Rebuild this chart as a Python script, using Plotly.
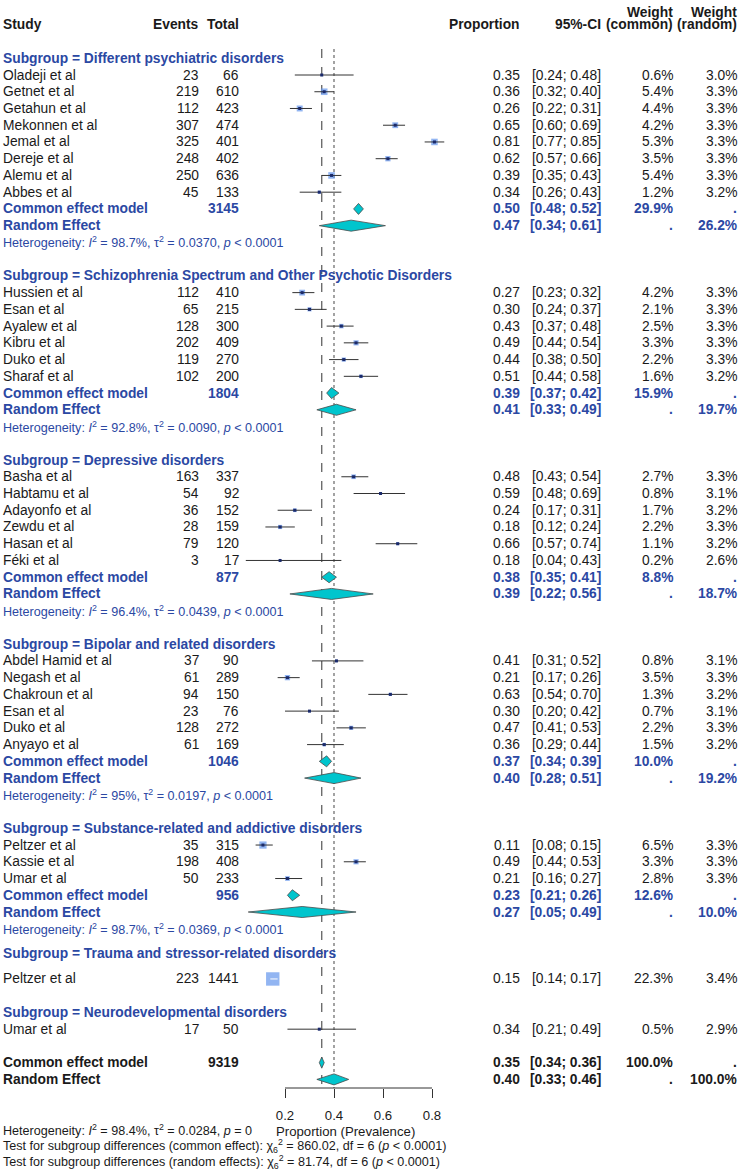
import plotly.graph_objects as go
import math

# ---------------- data ----------------
sub_names = [
    "Different psychiatric disorders",
    "Schizophrenia Spectrum and Other Psychotic Disorders",
    "Depressive disorders",
    "Bipolar and related disorders",
    "Substance-related and addictive disorders",
    "Trauma and stressor-related disorders",
    "Neurodevelopmental disorders",
]
sub_sizes = [8, 6, 6, 6, 3, 1, 1]

study_names = [
    "Oladeji et al", "Getnet et al", "Getahun et al", "Mekonnen et al", "Jemal et al",
    "Dereje et al", "Alemu et al", "Abbes et al",
    "Hussien et al", "Esan et al", "Ayalew et al", "Kibru et al", "Duko et al", "Sharaf et al",
    "Basha et al", "Habtamu et al", "Adayonfo et al", "Zewdu et al", "Hasan et al", "Féki et al",
    "Abdel Hamid et al", "Negash et al", "Chakroun et al", "Esan et al", "Duko et al", "Anyayo et al",
    "Peltzer et al", "Kassie et al", "Umar et al",
    "Peltzer et al",
    "Umar et al",
]
events = [23, 219, 112, 307, 325, 248, 250, 45,
          112, 65, 128, 202, 119, 102,
          163, 54, 36, 28, 79, 3,
          37, 61, 94, 23, 128, 61,
          35, 198, 50,
          223,
          17]
totals = [66, 610, 423, 474, 401, 402, 636, 133,
          410, 215, 300, 409, 270, 200,
          337, 92, 152, 159, 120, 17,
          90, 289, 150, 76, 272, 169,
          315, 408, 233,
          1441,
          50]
prop = [0.35, 0.36, 0.26, 0.65, 0.81, 0.62, 0.39, 0.34,
        0.27, 0.30, 0.43, 0.49, 0.44, 0.51,
        0.48, 0.59, 0.24, 0.18, 0.66, 0.18,
        0.41, 0.21, 0.63, 0.30, 0.47, 0.36,
        0.11, 0.49, 0.21,
        0.15,
        0.34]
ci_lo = [0.24, 0.32, 0.22, 0.60, 0.77, 0.57, 0.35, 0.26,
         0.23, 0.24, 0.37, 0.44, 0.38, 0.44,
         0.43, 0.48, 0.17, 0.12, 0.57, 0.04,
         0.31, 0.17, 0.54, 0.20, 0.41, 0.29,
         0.08, 0.44, 0.16,
         0.14,
         0.21]
ci_hi = [0.48, 0.40, 0.31, 0.69, 0.85, 0.66, 0.43, 0.43,
         0.32, 0.37, 0.48, 0.54, 0.50, 0.58,
         0.54, 0.69, 0.31, 0.24, 0.74, 0.43,
         0.52, 0.26, 0.70, 0.42, 0.53, 0.44,
         0.15, 0.53, 0.27,
         0.17,
         0.49]
w_common = [0.6, 5.4, 4.4, 4.2, 5.3, 3.5, 5.4, 1.2,
            4.2, 2.1, 2.5, 3.3, 2.2, 1.6,
            2.7, 0.8, 1.7, 2.2, 1.1, 0.2,
            0.8, 3.5, 1.3, 0.7, 2.2, 1.5,
            6.5, 3.3, 2.8,
            22.3,
            0.5]
w_random = [3.0, 3.3, 3.3, 3.3, 3.3, 3.3, 3.3, 3.2,
            3.3, 3.3, 3.3, 3.3, 3.3, 3.2,
            3.3, 3.1, 3.2, 3.3, 3.2, 2.6,
            3.1, 3.3, 3.2, 3.1, 3.3, 3.2,
            3.3, 3.3, 3.3,
            3.4,
            2.9]

# subgroup pooled estimates (only subgroups with >1 study)
sub_total_n = [3145, 1804, 877, 1046, 956]
sub_ce_est = [0.50, 0.39, 0.38, 0.37, 0.23]
sub_ce_lo = [0.48, 0.37, 0.35, 0.34, 0.21]
sub_ce_hi = [0.52, 0.42, 0.41, 0.39, 0.26]
sub_ce_w = [29.9, 15.9, 8.8, 10.0, 12.6]
sub_re_est = [0.47, 0.41, 0.39, 0.40, 0.27]
sub_re_lo = [0.34, 0.33, 0.22, 0.28, 0.05]
sub_re_hi = [0.61, 0.49, 0.56, 0.51, 0.49]
sub_re_w = [26.2, 19.7, 18.7, 19.2, 10.0]
sub_i2 = ["98.7%", "92.8%", "96.4%", "95%", "98.7%"]
sub_tau2 = ["0.0370", "0.0090", "0.0439", "0.0197", "0.0369"]
sub_p = ["< 0.0001", "< 0.0001", "< 0.0001", "< 0.0001", "< 0.0001"]

overall_n = 9319
overall_ce = [0.35, 0.34, 0.36]
overall_re = [0.40, 0.33, 0.46]
overall_i2 = "98.4%"
overall_tau2 = "0.0284"
overall_p = "= 0"
test_common = ["860.02", "6", "< 0.0001"]
test_random = ["81.74", "6", "< 0.0001"]

tick_vals = [0.2, 0.4, 0.6, 0.8]
tick_text = ["0.2", "0.4", "0.6", "0.8"]

# ---------------- layout constants ----------------
W, H = 744, 1176
X0_PX, X_SCALE = 236.0, 245.0          # pixel of proportion 0, px per unit
ROW0_PX, ROW_H = 75.0, 16.74           # pixel of row 0, px per row
B_MARGIN = 88
PLOT_H = H - B_MARGIN

BLUE = "#2B48A3"
BLACK = "#1a1a1a"
SQ = "#6495ED"
DIA = "#00C5CD"
FONT = "Arial, Liberation Sans, sans-serif"
FS = 13.8
FS_SMALL = 12.6

TITLE_ROWS = [-1, 12, 23, 34, 45, 52.45, 56]
FIRST_ROWS = [0, 13, 24, 35, 46, 54, 57]
OVERALL_ROWS = [59, 60]

COL_STUDY = 3
COL_EVENTS = 199
COL_TOTAL = 239
COL_PROP = 520
COL_CI = 601
COL_WC = 673
COL_WR = 737

annotations = []


def txt(xpx, row, text, anchor="left", color=BLACK, bold=False, size=FS):
    if bold:
        text = "<b>" + text + "</b>"
    annotations.append(dict(
        x=xpx / W, xref="paper", y=row, yref="y", text=text, showarrow=False,
        xanchor=anchor, yanchor="middle", borderpad=0, borderwidth=0,
        font=dict(family=FONT, size=size, color=color)))


def txt_below(xpx, ypx, text, anchor="left", size=FS_SMALL):
    # text placed below the plotting area, in paper coordinates
    annotations.append(dict(
        x=xpx / W, xref="paper", y=(PLOT_H - ypx) / PLOT_H, yref="paper", text=text,
        showarrow=False, xanchor=anchor, yanchor="middle", borderpad=0, borderwidth=0,
        font=dict(family=FONT, size=size, color=BLACK)))


def row_values(row, est, lo, hi, wc, wr, color=BLACK, bold=False):
    txt(COL_PROP, row, f"{est:.2f}", "right", color, bold)
    txt(COL_CI, row, f"[{lo:.2f}; {hi:.2f}]", "right", color, bold)
    txt(COL_WC, row, wc, "right", color, bold)
    txt(COL_WR, row, wr, "right", color, bold)


# header
txt(COL_STUDY, -3, "Study", "left", BLACK, True)
txt(COL_EVENTS, -3, "Events", "right", BLACK, True)
txt(COL_TOTAL, -3, "Total", "right", BLACK, True)
txt(COL_PROP, -3, "Proportion", "right", BLACK, True)
txt(COL_CI, -3, "95%-CI", "right", BLACK, True)
txt(COL_WC, -3.74, "Weight", "right", BLACK, True)
txt(COL_WC, -3, "(common)", "right", BLACK, True)
txt(COL_WR, -3.74, "Weight", "right", BLACK, True)
txt(COL_WR, -3, "(random)", "right", BLACK, True)

# studies
study_rows = []
idx = 0
for g, k in enumerate(sub_sizes):
    txt(COL_STUDY, TITLE_ROWS[g], "Subgroup = " + sub_names[g], "left", BLUE, True)
    for j in range(k):
        r = FIRST_ROWS[g] + j
        study_rows.append(r)
        i = idx + j
        txt(COL_STUDY, r, study_names[i])
        txt(COL_EVENTS, r, str(events[i]), "right")
        txt(COL_TOTAL, r, str(totals[i]), "right")
        row_values(r, prop[i], ci_lo[i], ci_hi[i], f"{w_common[i]:.1f}%", f"{w_random[i]:.1f}%")
    idx += k

# subgroup summaries
ce_rows, re_rows = [], []
for g in range(len(sub_total_n)):
    last = FIRST_ROWS[g] + sub_sizes[g] - 1
    rc, rr, rh = last + 1, last + 2, last + 3
    ce_rows.append(rc)
    re_rows.append(rr)
    txt(COL_STUDY, rc, "Common effect model", "left", BLUE, True)
    txt(COL_TOTAL, rc, str(sub_total_n[g]), "right", BLUE, True)
    row_values(rc, sub_ce_est[g], sub_ce_lo[g], sub_ce_hi[g], f"{sub_ce_w[g]:.1f}%", ".", BLUE, True)
    txt(COL_STUDY, rr, "Random Effect", "left", BLUE, True)
    row_values(rr, sub_re_est[g], sub_re_lo[g], sub_re_hi[g], ".", f"{sub_re_w[g]:.1f}%", BLUE, True)
    txt(COL_STUDY, rh,
        f"Heterogeneity: <i>I</i><sup>2</sup> = {sub_i2[g]}, τ<sup>2</sup> = {sub_tau2[g]}, "
        f"<i>p</i> {sub_p[g].replace('<', '&lt;')}",
        "left", BLUE, False, FS_SMALL)

# overall
txt(COL_STUDY, OVERALL_ROWS[0], "Common effect model", "left", BLACK, True)
txt(COL_TOTAL, OVERALL_ROWS[0], str(overall_n), "right", BLACK, True)
row_values(OVERALL_ROWS[0], overall_ce[0], overall_ce[1], overall_ce[2], "100.0%", ".", BLACK, True)
txt(COL_STUDY, OVERALL_ROWS[1], "Random Effect", "left", BLACK, True)
row_values(OVERALL_ROWS[1], overall_re[0], overall_re[1], overall_re[2], ".", "100.0%", BLACK, True)

# bottom text
txt_below(COL_STUDY, 1130,
          f"Heterogeneity: <i>I</i><sup>2</sup> = {overall_i2}, τ<sup>2</sup> = {overall_tau2}, "
          f"<i>p</i> {overall_p}")
txt_below(COL_STUDY, 1146,
          f"Test for subgroup differences (common effect): χ<sub>{test_common[1]}</sub><sup>2</sup> = "
          f"{test_common[0]}, df = {test_common[1]} (<i>p</i> {test_common[2].replace('<', '&lt;')})")
txt_below(COL_STUDY, 1162,
          f"Test for subgroup differences (random effects): χ<sub>{test_random[1]}</sub><sup>2</sup> = "
          f"{test_random[0]}, df = {test_random[1]} (<i>p</i> {test_random[2].replace('<', '&lt;')})")
txt_below(345, 1131, "Proportion (Prevalence)", "center", 13.2)

# ---------------- traces ----------------
fig = go.Figure()

# squares
sizes = [13.4 * math.sqrt(w / max(w_common)) for w in w_common]
fig.add_trace(go.Scatter(x=prop, y=study_rows, mode="markers",
                         marker=dict(symbol="square", size=sizes, color=SQ, line=dict(width=0)),
                         hoverinfo="skip", showlegend=False))

# CI lines
lx, ly, wx, wy = [], [], [], []
for i, r in enumerate(study_rows):
    half = sizes[i] / 2 / X_SCALE
    if ci_lo[i] > prop[i] - half and ci_hi[i] < prop[i] + half:
        wx += [ci_lo[i], ci_hi[i], None]
        wy += [r, r, None]
    else:
        lx += [ci_lo[i], ci_hi[i], None]
        ly += [r, r, None]
fig.add_trace(go.Scatter(x=lx, y=ly, mode="lines", line=dict(color="#333333", width=1),
                         hoverinfo="skip", showlegend=False))
fig.add_trace(go.Scatter(x=wx, y=wy, mode="lines", line=dict(color="white", width=1),
                         hoverinfo="skip", showlegend=False))
# centre points
fig.add_trace(go.Scatter(x=[p for i, p in enumerate(prop) if sizes[i] < 10],
                         y=[r for i, r in enumerate(study_rows) if sizes[i] < 10], mode="markers",
                         marker=dict(symbol="square", size=3, color="#1b2a6b", line=dict(width=0)),
                         hoverinfo="skip", showlegend=False))

# diamonds
DH = 0.33


def diamond(est, lo, hi, row):
    fig.add_trace(go.Scatter(x=[lo, est, hi, est, lo], y=[row, row - DH, row, row + DH, row],
                             mode="lines", fill="toself", fillcolor=DIA,
                             line=dict(color="#4a4a4a", width=0.8),
                             hoverinfo="skip", showlegend=False))


for g in range(len(sub_total_n)):
    diamond(sub_ce_est[g], sub_ce_lo[g], sub_ce_hi[g], ce_rows[g])
    diamond(sub_re_est[g], sub_re_lo[g], sub_re_hi[g], re_rows[g])
diamond(overall_ce[0], overall_ce[1], overall_ce[2], OVERALL_ROWS[0])
diamond(overall_re[0], overall_re[1], overall_re[2], OVERALL_ROWS[1])

# ---------------- axes & shapes ----------------
row_top = -ROW0_PX / ROW_H
row_bot = (PLOT_H - ROW0_PX) / ROW_H
x_lo = -X0_PX / X_SCALE
x_hi = (W - X0_PX) / X_SCALE

shapes = [
    dict(type="line", xref="x", yref="y", x0=overall_ce[0], x1=overall_ce[0], y0=-1.55, y1=row_bot,
         line=dict(color="#555555", width=1.2, dash="dash"), layer="below"),
    dict(type="line", xref="x", yref="y", x0=overall_re[0], x1=overall_re[0], y0=-1.55, y1=row_bot,
         line=dict(color="#666666", width=1.2, dash="dot"), layer="below"),
    dict(type="line", xref="x", yref="paper", x0=tick_vals[0], x1=tick_vals[-1], y0=0, y1=0,
         line=dict(color="#333333", width=1)),
]

fig.update_layout(
    width=W, height=H,
    margin=dict(l=0, r=0, t=0, b=B_MARGIN, pad=0),
    paper_bgcolor="white", plot_bgcolor="white",
    showlegend=False,
    annotations=annotations,
    shapes=shapes,
    xaxis=dict(range=[x_lo, x_hi], showgrid=False, zeroline=False, showline=False,
               tickvals=tick_vals, ticktext=tick_text, ticks="outside", ticklen=9,
               tickcolor="#333333", tickwidth=1, ticklabelstandoff=6,
               tickfont=dict(family=FONT, size=13.2, color=BLACK)),
    yaxis=dict(range=[row_bot, row_top], showgrid=False, zeroline=False, showline=False,
               showticklabels=False, ticks=""),
)

fig.write_html("out.html")
